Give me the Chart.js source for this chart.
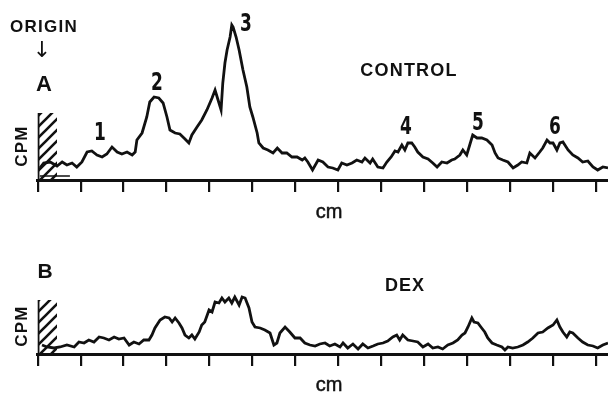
<!DOCTYPE html>
<html>
<head>
<meta charset="utf-8">
<script src="https://cdn.jsdelivr.net/npm/chart.js@4.4.1/dist/chart.umd.min.js"></script>
<style>
  html, body { margin: 0; padding: 0; background: #fff; }
  body { width: 608px; height: 394px; position: relative; overflow: hidden;
         font-family: "Liberation Sans", Arial, sans-serif; font-weight: bold; color: #111; }
  .box { position: absolute; left: 0; width: 608px; }
  #boxA { top: 0; height: 230px; }
  #boxB { top: 240px; height: 154px; }
  .lbl { position: absolute; transform: translate(-50%, -50%); line-height: 1; white-space: nowrap; }
  .word { font-size: 17px; letter-spacing: 1.3px; }
  .num { font-family: "DejaVu Sans", sans-serif; font-weight: bold; font-size: 25px;
         transform: translate(-50%, -50%) scaleX(0.68); }
  .cpm { font-size: 17px; letter-spacing: 1.3px; transform: translate(-50%, -50%) rotate(-90deg); }
  .cm { font-size: 20px; font-weight: normal; -webkit-text-stroke: 0.5px #111; }
</style>
</head>
<body>
<div class="box" id="boxA"><canvas id="chartA"></canvas></div>
<div class="box" id="boxB"><canvas id="chartB"></canvas></div>

<div class="lbl word" style="left:44px; top:26px;">ORIGIN</div>
<div class="lbl" style="left:42px; top:50px; font-size:22px; font-weight:normal; font-family:'DejaVu Sans';">↓</div>
<div class="lbl" style="left:44px; top:84px; font-size:22px;">A</div>
<div class="lbl cpm" style="left:21px; top:146px;">CPM</div>
<div class="lbl word" style="left:409px; top:70px; font-size:18px; letter-spacing:1.2px;">CONTROL</div>
<div class="lbl num" style="left:100px; top:131px;">1</div>
<div class="lbl num" style="left:157px; top:81px;">2</div>
<div class="lbl num" style="left:246px; top:22px;">3</div>
<div class="lbl num" style="left:406px; top:125px;">4</div>
<div class="lbl num" style="left:478px; top:121px;">5</div>
<div class="lbl num" style="left:555px; top:125px;">6</div>
<div class="lbl cm" style="left:329px; top:211px;">cm</div>

<div class="lbl" style="left:45px; top:270px; font-size:21px;">B</div>
<div class="lbl word" style="left:405px; top:285px; font-size:18px; letter-spacing:1px;">DEX</div>
<div class="lbl cpm" style="left:21px; top:326px;">CPM</div>
<div class="lbl cm" style="left:329px; top:384px;">cm</div>

<script>
// distance from origin (cm) and counts (arbitrary CPM units)
const cmA = [0.05, 0.14, 0.29, 0.45, 0.57, 0.68, 0.80, 0.91, 1.03, 1.15, 1.26, 1.38, 1.50, 1.61, 1.73, 1.85, 1.96,
  2.08, 2.20, 2.27, 2.31, 2.43, 2.54, 2.61, 2.71, 2.82, 2.92, 3.01, 3.08, 3.20, 3.31, 3.43, 3.52, 3.59, 3.71,
  3.82, 3.94, 4.06, 4.13, 4.20, 4.27, 4.31, 4.36, 4.41, 4.48, 4.52, 4.55, 4.62, 4.69, 4.78, 4.87, 4.94, 5.01,
  5.11, 5.15, 5.25, 5.36, 5.48, 5.58, 5.69, 5.80, 5.92, 6.04, 6.16, 6.22, 6.29, 6.40, 6.53, 6.64, 6.76, 6.87,
  6.99, 7.08, 7.20, 7.32, 7.43, 7.55, 7.62, 7.74, 7.80, 7.92, 8.04, 8.13, 8.23, 8.32, 8.39, 8.48, 8.55, 8.62,
  8.71, 8.78, 8.85, 8.97, 9.09, 9.20, 9.30, 9.41, 9.53, 9.64, 9.71, 9.83, 9.90, 9.99, 10.06, 10.13, 10.23,
  10.34, 10.46, 10.58, 10.65, 10.72, 10.83, 10.95, 11.07, 11.18, 11.27, 11.39, 11.46, 11.58, 11.69, 11.76,
  11.86, 11.93, 12.00, 12.09, 12.16, 12.23, 12.35, 12.46, 12.58, 12.69, 12.81, 12.93, 13.04, 13.16, 13.28];
const cpmA = [12, 17, 18, 14, 18, 15, 17, 13, 18, 28, 29, 25, 23, 26, 33, 28, 26,
  28, 25, 28, 40, 47, 63, 78, 83, 82, 77, 63, 50, 47, 46, 41, 37, 45, 53,
  60, 70, 82, 90, 80, 70, 97, 117, 130, 143, 155, 153, 143, 130, 110, 93, 73, 63,
  47, 37, 32, 30, 27, 32, 27, 27, 23, 23, 20, 22, 18, 10, 20, 18, 13, 12,
  10, 17, 15, 17, 20, 18, 22, 17, 21, 13, 12, 18, 23, 29, 28, 35, 30, 37,
  37, 33, 28, 23, 21, 17, 13, 18, 17, 20, 21, 25, 30, 25, 35, 45, 42,
  42, 40, 35, 27, 22, 20, 18, 12, 15, 18, 17, 27, 22, 28, 32,
  40, 37, 37, 30, 37, 38, 30, 25, 22, 18, 19, 13, 10, 13, 12];

const cmB = [0.10, 0.22, 0.38, 0.52, 0.68, 0.85, 0.96, 1.08, 1.19, 1.31, 1.43, 1.54, 1.66, 1.78, 1.89, 2.01,
  2.13, 2.24, 2.36, 2.47, 2.59, 2.66, 2.73, 2.85, 2.96, 3.06, 3.13, 3.20, 3.29, 3.36, 3.43, 3.52, 3.59, 3.66,
  3.76, 3.82, 3.89, 3.99, 4.06, 4.13, 4.22, 4.29, 4.36, 4.45, 4.52, 4.59, 4.69, 4.76, 4.83, 4.92, 4.99, 5.06,
  5.18, 5.29, 5.41, 5.50, 5.57, 5.64, 5.76, 5.87, 5.99, 6.11, 6.22, 6.34, 6.46, 6.57, 6.69, 6.80, 6.92, 7.04,
  7.11, 7.22, 7.34, 7.46, 7.57, 7.69, 7.81, 7.92, 8.04, 8.15, 8.27, 8.36, 8.43, 8.50, 8.62, 8.74, 8.85, 8.97,
  9.09, 9.20, 9.32, 9.43, 9.55, 9.67, 9.78, 9.88, 9.95, 10.02, 10.11, 10.16, 10.25, 10.32, 10.41, 10.48,
  10.58, 10.69, 10.81, 10.88, 10.95, 11.06, 11.18, 11.30, 11.41, 11.53, 11.65, 11.76, 11.88, 12.00, 12.09,
  12.16, 12.23, 12.32, 12.39, 12.46, 12.58, 12.69, 12.81, 12.93, 13.04, 13.16, 13.28];
const cpmB = [9, 7, 6, 7, 9, 7, 12, 11, 14, 12, 17, 16, 14, 17, 15, 16,
  9, 12, 10, 14, 14, 19, 26, 34, 37, 36, 32, 36, 31, 26, 19, 16, 19, 15,
  22, 29, 32, 44, 42, 52, 51, 56, 52, 56, 51, 57, 49, 57, 56, 46, 32, 27,
  26, 24, 21, 9, 11, 21, 27, 22, 16, 16, 11, 9, 8, 10, 11, 8, 10, 7,
  11, 6, 10, 5, 10, 6, 8, 10, 11, 13, 17, 19, 14, 19, 14, 13, 12, 7,
  10, 6, 7, 5, 9, 11, 14, 19, 21, 27, 36, 32, 31, 27, 22, 16,
  11, 9, 7, 4, 7, 6, 7, 9, 12, 16, 21, 22, 26, 29, 34,
  27, 22, 17, 22, 21, 16, 12, 9, 8, 6, 9, 11];

// origin well (hatched) and the short reference line at the start of trace A
const wellWidth = 0.45;
const wellTopA = 67;
const wellTopB = 54;
const refLineA = { cm: [0.05, 0.75], cpm: [4, 4] };

const axisMax = 13.28;
const cmTicks = [0, 1, 2, 3, 4, 5, 6, 7, 8, 9, 10, 11, 12, 13];

function pts(xs, ys) {
  return xs.map((x, i) => ({ x: x, y: ys[i] }));
}

function hatchPattern() {
  const c = document.createElement('canvas');
  c.width = 11; c.height = 11;
  const g = c.getContext('2d');
  g.strokeStyle = '#111';
  g.lineWidth = 2.6;
  g.beginPath();
  g.moveTo(-2, 13); g.lineTo(13, -2);
  g.moveTo(-2, 2); g.lineTo(2, -2);
  g.moveTo(9, 13); g.lineTo(13, 9);
  g.stroke();
  return g.createPattern(c, 'repeat');
}

function makeChart(id, xs, ys, wellTop, yMax, padBottom, extra) {
  const datasets = [{
    data: pts(xs, ys),
    borderColor: '#111',
    borderWidth: 2.8,
    pointRadius: 0,
    tension: 0,
    fill: false
  }, {
    data: [{ x: 0, y: wellTop }, { x: wellWidth, y: wellTop }],
    borderColor: 'rgba(0,0,0,0)',
    backgroundColor: hatchPattern(),
    pointRadius: 0,
    fill: 'origin'
  }, {
    data: [{ x: 0, y: 0 }, { x: 0, y: wellTop }],
    borderColor: '#111',
    borderWidth: 3.5,
    pointRadius: 0,
    fill: false
  }].concat(extra);

  return new Chart(document.getElementById(id), {
    type: 'line',
    data: { datasets: datasets },
    options: {
      responsive: true,
      maintainAspectRatio: false,
      animation: false,
      events: [],
      layout: { padding: { left: 37.7, right: 0, top: 0, bottom: padBottom } },
      plugins: { legend: { display: false }, tooltip: { enabled: false } },
      scales: {
        x: {
          type: 'linear',
          min: 0,
          max: axisMax,
          afterBuildTicks: (s) => { s.ticks = cmTicks.map(v => ({ value: v })); },
          ticks: { display: false },
          grid: { drawOnChartArea: false, drawTicks: true, tickLength: 12, lineWidth: 2.2, color: '#111' },
          border: { display: true, width: 3, color: '#111' },
          title: { display: false }
        },
        y: { display: false, min: 0, max: yMax }
      }
    }
  });
}

makeChart('chartA', cmA, cpmA, wellTopA, 180, 38, [{
  data: pts(refLineA.cm, refLineA.cpm),
  borderColor: '#111',
  borderWidth: 1.5,
  pointRadius: 0,
  fill: false
}]);
makeChart('chartB', cmB, cpmB, wellTopB, 114, 28, []);
</script>
</body>
</html>
